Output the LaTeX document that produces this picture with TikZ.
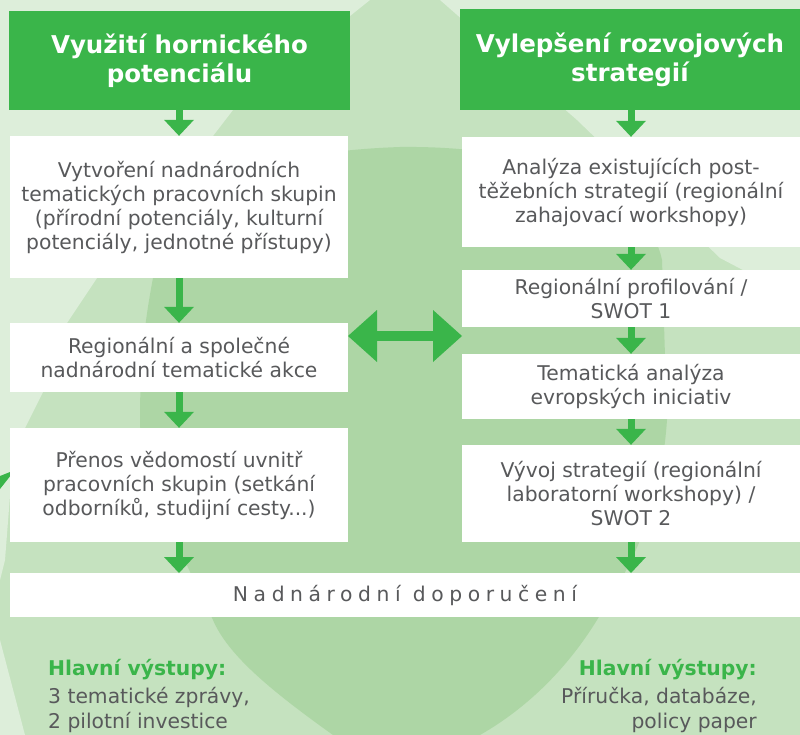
\documentclass[tikz,border=0pt]{standalone}
\usepackage{fontspec}
\setmainfont{DejaVu Sans}
\newfontfamily\spacedfont{DejaVu Sans}[LetterSpace=27.5]
\usetikzlibrary{arrows.meta}
\definecolor{hdr}{HTML}{3AB54A}
\definecolor{txt}{HTML}{58595B}
\definecolor{bgA}{HTML}{DDEEDA}
\definecolor{bgB}{HTML}{C5E2BF}
\definecolor{bgC}{HTML}{ADD6A5}
\tikzset{
  hbox/.style={fill=hdr, text=white, align=center, inner sep=0pt,
    font=\fontsize{24.5}{29}\selectfont\bfseries},
  wbox/.style={fill=white, text=txt, align=center, inner sep=0pt,
    font=\fontsize{20.3}{24}\selectfont, minimum width=338pt},
  flow/.style={draw=hdr, line width=7pt,
    -{Triangle[width=30pt,length=16pt,line width=0pt]}},
  both/.style={draw=hdr, line width=10pt,
    {Triangle[width=52pt,length=29pt,line width=0pt]}-{Triangle[width=52pt,length=29pt,line width=0pt]}},
  outh/.style={text=hdr, inner sep=0pt, font=\fontsize{20.3}{24}\selectfont\bfseries},
  outt/.style={text=txt, inner sep=0pt, font=\fontsize{20.3}{24}\selectfont},
}
\begin{document}
\begin{tikzpicture}[x=1pt,y=-1pt]
% background
\fill[bgB] (0,0) rectangle (800,735);
\begin{scope}
  \clip (0,0) rectangle (800,735);
  \fill[bgA] (0,0) -- (370,0) -- (233,110) -- (213,136) -- (97,278) -- (67,323)
    -- (43,392) -- (25,428) -- (12,470) -- (5,560) -- (0,580) -- cycle;
  \fill[bgA] (440,0) -- (800,0) -- (800,300) -- (720,258) -- (577,120) -- cycle;
  \fill[bgA] (0,640) -- (25,735) -- (0,735) -- cycle;
  \fill[bgC] (153,278) .. controls (175,185) and (260,152) .. (400,147)
    .. controls (560,145) and (650,200) .. (662,260)
    -- (667,420) .. controls (660,520) and (625,575) .. (597,620)
    .. controls (560,680) and (515,715) .. (480,735)
    -- (333,735) .. controls (270,690) and (228,655) .. (213,620)
    .. controls (170,530) and (140,470) .. (140,420)
    .. controls (140,360) and (145,320) .. (153,278) -- cycle;
  \fill[hdr] (15,470) -- (0,476) -- (0,489) -- cycle;
\end{scope}
\useasboundingbox (0,0) rectangle (800,735);

% headers
\node[hbox, minimum width=341pt, minimum height=99pt] (hl) at (179.5,60.5)
  {Využití hornického\\potenciálu};
\node[hbox, minimum width=340pt, minimum height=101pt] (hr) at (630,59.5)
  {Vylepšení rozvojových\\strategií};

% left column
\node[wbox, minimum height=142pt] (l1) at (179,207)
  {Vytvoření nadnárodních\\tematických pracovních skupin\\(přírodní potenciály, kulturní\\potenciály, jednotné přístupy)};
\node[wbox, minimum height=69pt] (l2) at (179,357.5)
  {Regionální a společné\\nadnárodní tematické akce};
\node[wbox, minimum height=114pt] (l3) at (179,485)
  {Přenos vědomostí uvnitř\\pracovních skupin (setkání\\odborníků, studijní cesty...)};

% right column
\node[wbox, minimum height=110pt] (r1) at (631,192)
  {Analýza existujících post-\\těžebních strategií (regionální\\zahajovací workshopy)};
\node[wbox, minimum height=57pt] (r2) at (631,298.5)
  {Regionální profilování /\\SWOT 1};
\node[wbox, minimum height=65pt] (r3) at (631,386.5)
  {Tematická analýza\\evropských iniciativ};
\node[wbox, minimum height=97pt] (r4) at (631,493.5)
  {Vývoj strategií (regionální\\laboratorní workshopy) /\\SWOT 2};

% bottom
\node[fill=white, text=txt, inner sep=0pt, minimum width=790pt, minimum height=44pt,
  font=\fontsize{20.3}{24}\spacedfont] (nd) at (405,595) {Nadnárodní doporučení};

% arrows left
\coordinate (lb) at (179,573);
\coordinate (rb) at (631,573);
\draw[flow] (hl.south -| l1.north) -- (l1.north);
\draw[flow] (l1) -- (l2);
\draw[flow] (l2) -- (l3);
\draw[flow] (l3.south) -- (lb);
% arrows right
\draw[flow] (hr.south -| r1.north) -- (r1.north);
\draw[flow] (r1) -- (r2);
\draw[flow] (r2) -- (r3);
\draw[flow] (r3) -- (r4);
\draw[flow] (r4.south) -- (rb);
% double arrow
\coordinate (dl) at (348,336);
\coordinate (dr) at (462,336);
\draw[both] (dl) -- (dr);

% outputs
\node[outh, anchor=base west] (o1) at (48,675) {Hlavní výstupy:};
\node[outt, anchor=base west] (o2) at (48,703) {3 tematické zprávy,};
\node[outt, anchor=base west] (o3) at (48,728) {2 pilotní investice};
\node[outh, anchor=base east] (p1) at (757,675) {Hlavní výstupy:};
\node[outt, anchor=base east] (p2) at (757,703) {Příručka, databáze,};
\node[outt, anchor=base east] (p3) at (757,728) {policy paper};
\end{tikzpicture}
\end{document}
